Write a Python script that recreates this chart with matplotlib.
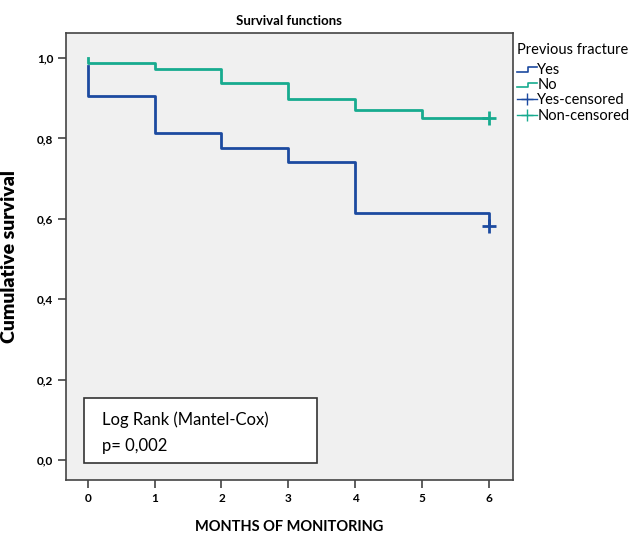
import numpy as np
import matplotlib.pyplot as plt
from matplotlib.lines import Line2D
from matplotlib.legend_handler import HandlerBase
from matplotlib.patches import Rectangle

plt.rcParams['font.family'] = ['Lato', 'DejaVu Sans']

# ---- dati ----
months = [0, 1, 2, 3, 4, 5, 6]
surv_yes = [0.906, 0.814, 0.777, 0.741, 0.614, 0.614, 0.583]
surv_no = [0.987, 0.972, 0.939, 0.898, 0.870, 0.852, 0.852]
cens_yes = (6, 0.583)
cens_no = (6, 0.852)
yticks = [0.0, 0.2, 0.4, 0.6, 0.8, 1.0]
ytick_labels = ['0,0', '0,2', '0,4', '0,6', '0,8', '1,0']

c_yes = '#1c4aa0'
c_no = '#17ab8f'

fig = plt.figure(figsize=(6.33, 5.34), dpi=100)
ax = fig.add_axes([0.104, 0.101, 0.706, 0.837])
ax.set_facecolor('#f0f0f0')

# curve a gradini (partenza da 1,0)
ax.step([0] + months, [0.98] + surv_yes, where='post', color=c_yes, lw=2)
ax.step([0] + months, [1.0] + surv_no, where='post', color=c_no, lw=2)
ax.plot(*cens_yes, marker='+', color=c_yes, ms=10, mew=2)
ax.plot(*cens_no, marker='+', color=c_no, ms=10, mew=2)

ax.set_xlim(-0.33, 6.36)
ax.set_ylim(-0.05, 1.062)
ax.set_xticks(months)
ax.set_xticklabels([str(m) for m in months], fontweight='bold', fontsize=8.5)
ax.set_yticks(yticks)
ax.set_yticklabels(ytick_labels, fontweight='bold', fontsize=8.5)
ax.tick_params(direction='out', length=6, width=1.1, color='#333333', pad=3)
for s in ax.spines.values():
    s.set_color('#444444')
    s.set_linewidth(1.2)

ax.set_title('Survival functions', fontweight='bold', fontsize=9.5, pad=6)
ax.set_xlabel('MONTHS OF MONITORING', fontweight='bold', fontsize=10.5, labelpad=12)
ax.set_ylabel('Cumulative survival', fontweight='heavy', fontsize=14, labelpad=14)

# riquadro Log Rank
ax.add_patch(Rectangle((0.040, 0.038), 0.521, 0.145, transform=ax.transAxes,
                       facecolor='white', edgecolor='#333333', lw=1.2, zorder=3))
ax.text(0.081, 0.134, 'Log Rank (Mantel-Cox)', transform=ax.transAxes,
        fontsize=12, va='center', zorder=4)
ax.text(0.081, 0.076, 'p= 0,002', transform=ax.transAxes,
        fontsize=12, va='center', zorder=4)


class HandlerStep(HandlerBase):
    def create_artists(self, legend, orig, xd, yd, w, h, fs, trans):
        xs = [-xd, -xd + w * 0.55, -xd + w * 0.55, -xd + w]
        ys = [-yd + h * 0.15, -yd + h * 0.15, -yd + h * 0.6, -yd + h * 0.6]
        ln = Line2D(xs, ys, color=orig.get_color(), lw=1.2, transform=trans)
        return [ln]


h_yes = Line2D([], [], color=c_yes)
h_no = Line2D([], [], color=c_no)
h_cy = Line2D([], [], color=c_yes, lw=1, marker='+', ms=9, mew=1)
h_cn = Line2D([], [], color=c_no, lw=1, marker='+', ms=9, mew=1)
leg = fig.legend([h_yes, h_no, h_cy, h_cn], ['Yes', 'No', 'Yes-censored', 'Non-censored'],
                 title='Previous fracture', loc='upper left',
                 bbox_to_anchor=(0.812, 0.925), frameon=False, fontsize=10.5,
                 title_fontsize=10.5, handlelength=1.4, handletextpad=0.0,
                 labelspacing=0.1, borderpad=0.2, borderaxespad=0,
                 handler_map={h_yes: HandlerStep(), h_no: HandlerStep()})
leg._legend_box.align = 'left'
leg._legend_box.sep = 4

fig.savefig('out.png', dpi=100)
